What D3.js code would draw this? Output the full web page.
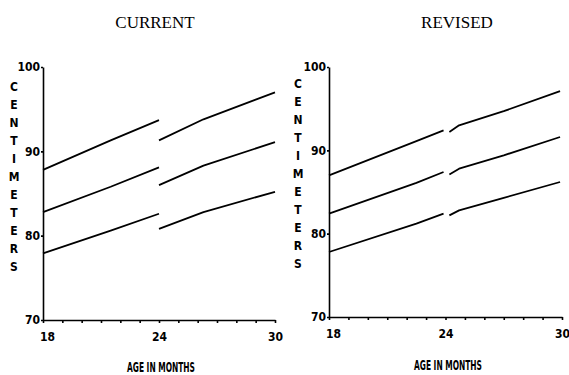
<!DOCTYPE html>
<html>
<head>
<meta charset="utf-8">
<script src="https://cdn.jsdelivr.net/npm/d3@7"></script>
<style>
  body { margin: 0; background: #fff; }
  .title { font-family: "Liberation Serif", "Times New Roman", serif; font-size: 17px; }
  .lbl { font-family: "Liberation Sans Narrow", "DejaVu Sans Condensed", sans-serif; font-weight: bold; font-stretch: condensed; }
  .tick text { font-family: "Liberation Sans Narrow", "DejaVu Sans Condensed", sans-serif; font-weight: bold; font-size: 12px; fill: #000; }
  .axis path, .axis line { stroke: #000; stroke-width: 1.6; }
</style>
</head>
<body>
<svg id="chart" width="569" height="375"></svg>
<script>
var width = 569,
    height = 375;

// tick labels
var ageLabels = [18, 24, 30];
var cmLabels = [70, 80, 90, 100];
var yLetters = "CENTIMETERS".split("");

// CURRENT panel: months and centimetres, before and after 24 months
var curMonthsA = [18, 21.5, 24];
var curMonthsB = [24, 26.3, 30];
var curUpperA = [87.8, 91.3, 93.7];
var curUpperB = [91.3, 93.8, 97.0];
var curMiddleA = [82.8, 85.8, 88.1];
var curMiddleB = [86.0, 88.3, 91.1];
var curLowerA = [77.9, 80.6, 82.6];
var curLowerB = [80.8, 82.8, 85.2];

// REVISED panel
var revMonthsA = [18, 22.5, 23.9];
var revMonthsB = [24.2, 24.7, 27, 29.9];
var revUpperA = [87.0, 91.1, 92.4];
var revUpperB = [92.2, 93.0, 94.7, 97.1];
var revMiddleA = [82.4, 86.1, 87.4];
var revMiddleB = [87.1, 87.8, 89.4, 91.6];
var revLowerA = [77.8, 81.2, 82.4];
var revLowerB = [82.2, 82.8, 84.3, 86.2];

var svg = d3.select("#chart");

function zip(ms, vs) {
    return ms.map(function(m, i) { return [m, vs[i]]; });
}

function drawPanel(p) {
    var x = d3.scaleLinear().domain([18, 30]).range([p.x0, p.x1]);
    var y = d3.scaleLinear().domain([70, 100]).range([p.y0, p.y1]);
    var g = svg.append("g");

    g.append("text")
        .attr("class", "title")
        .attr("x", p.titleX).attr("y", 28)
        .attr("text-anchor", "middle")
        .text(p.title);

    g.append("g")
        .attr("class", "axis")
        .attr("transform", "translate(0," + p.y0 + ")")
        .call(d3.axisBottom(x)
            .tickValues(d3.range(18, 31))
            .tickSize(3)
            .tickPadding(9)
            .tickSizeOuter(0)
            .tickFormat(function(d) { return ageLabels.indexOf(d) >= 0 ? d : ""; }))
        .call(function(a) {
            a.selectAll(".tick text").attr("dx", function(d) { return d == 18 ? 4 : 0; });
        });

    g.append("g")
        .attr("class", "axis")
        .attr("transform", "translate(" + p.x0 + ",0)")
        .call(d3.axisLeft(y)
            .tickValues(cmLabels)
            .tickSize(2)
            .tickPadding(1)
            .tickSizeOuter(0));

    var line = d3.line()
        .x(function(d) { return x(d[0]); })
        .y(function(d) { return y(d[1]); });

    g.selectAll(".seg")
        .data(p.segments)
        .enter()
        .append("path")
            .attr("class", "seg")
            .attr("d", line)
            .attr("fill", "none")
            .attr("stroke", "#000")
            .attr("stroke-width", 1.8)
            .attr("stroke-linejoin", "round");

    g.selectAll(".yl")
        .data(yLetters)
        .enter()
        .append("text")
            .attr("class", "lbl")
            .attr("x", p.letterX)
            .attr("y", function(d, i) { return p.letterY + i * 18; })
            .attr("text-anchor", "middle")
            .attr("dominant-baseline", "central")
            .style("font-size", "12px")
            .text(function(d) { return d; });

    g.append("text")
        .attr("class", "lbl")
        .attr("x", p.axisTitleX - 34).attr("y", p.axisTitleY)
        .attr("textLength", 68)
        .attr("lengthAdjust", "spacingAndGlyphs")
        .style("font-size", "14px")
        .text("AGE IN MONTHS");
}

drawPanel({
    title: "CURRENT", titleX: 155,
    x0: 43, x1: 275, y0: 320, y1: 67,
    letterX: 14, letterY: 87,
    axisTitleX: 161, axisTitleY: 372,
    segments: [
        zip(curMonthsA, curUpperA), zip(curMonthsB, curUpperB),
        zip(curMonthsA, curMiddleA), zip(curMonthsB, curMiddleB),
        zip(curMonthsA, curLowerA), zip(curMonthsB, curLowerB)
    ]
});

drawPanel({
    title: "REVISED", titleX: 457,
    x0: 329, x1: 562, y0: 317, y1: 67,
    letterX: 298, letterY: 84,
    axisTitleX: 448, axisTitleY: 370,
    segments: [
        zip(revMonthsA, revUpperA), zip(revMonthsB, revUpperB),
        zip(revMonthsA, revMiddleA), zip(revMonthsB, revMiddleB),
        zip(revMonthsA, revLowerA), zip(revMonthsB, revLowerB)
    ]
});
</script>
</body>
</html>
